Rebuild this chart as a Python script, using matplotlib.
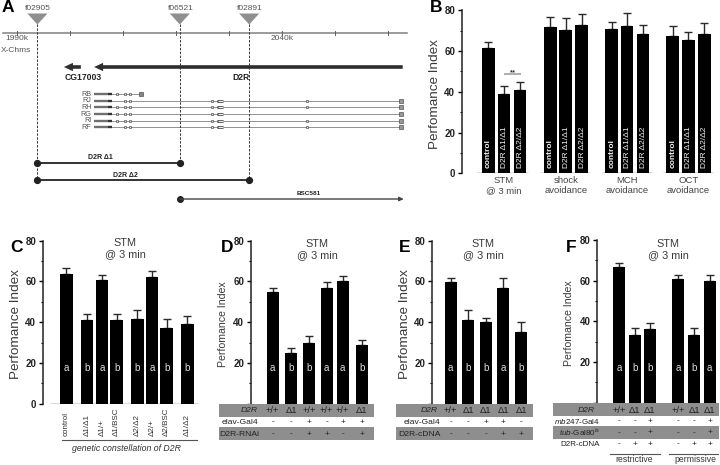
import matplotlib
matplotlib.use("Agg")
import matplotlib.pyplot as plt
import numpy as np

plt.rcParams['font.family'] = ['Liberation Sans', 'DejaVu Sans']
plt.rcParams['mathtext.fontset'] = 'custom'
plt.rcParams['mathtext.rm'] = 'Liberation Sans'
plt.rcParams['mathtext.it'] = 'Liberation Sans:italic'

# --- values ---
b_labels = ["control", "D2R \u03941/\u03941", "D2R \u03942/\u03942"]
b_groups = ["STM\n@ 3 min", "shock\navoidance", "MCH\navoidance", "OCT\navoidance"]
b_values = [61.5, 39, 41, 72, 70.5, 73, 71, 72.5, 68.5, 67.5, 65.5, 68.5]
b_errors = [3, 4, 4, 4.5, 5.5, 5, 3.5, 6, 4.5, 5, 4, 5.5]

c_labels = ["control", "\u03941/\u03941", "\u03941/+", "\u03941/BSC",
            "\u03942/\u03942", "\u03942/+", "\u03942/BSC", "\u03941/\u03942"]
c_values = [63.5, 41, 60.5, 41, 41.5, 62, 37, 39]
c_errors = [3, 3, 2.5, 3, 4.5, 3, 4.5, 4]
c_groups = ["a", "b", "a", "b", "b", "a", "b", "b"]

d_values = [55, 25, 30, 57, 60, 29]
d_errors = [2, 2.5, 3, 2.5, 2.5, 2.5]
d_groups = ["a", "b", "b", "a", "a", "b"]
d_d2r = ["+/+", "\u03941", "+/+", "+/+", "+/+", "\u03941"]
d_elav = ["-", "-", "+", "-", "+", "+"]
d_rnai = ["-", "-", "+", "+", "-", "+"]

e_values = [59.5, 41, 40, 57, 35]
e_errors = [2, 5, 2, 4.5, 5]
e_groups = ["a", "b", "b", "a", "b"]
e_d2r = ["+/+", "\u03941", "\u03941", "\u03941", "\u03941"]
e_elav = ["-", "-", "+", "+", "-"]
e_cdna = ["-", "-", "-", "+", "+"]

f_values = [66.5, 33.5, 36, 61, 33.5, 60]
f_errors = [2, 3, 3, 2, 3, 3]
f_groups = ["a", "b", "b", "a", "b", "a"]
f_d2r = ["+/+", "\u03941", "\u03941", "+/+", "\u03941", "\u03941"]
f_mb = ["-", "-", "+", "-", "-", "+"]
f_tub = ["-", "-", "+", "-", "-", "+"]
f_cdna = ["-", "+", "+", "-", "+", "+"]

# panel A, positions in kb along the chromosome
insertions = ["f02905", "f06521", "f02891"]
insertion_kb = [1993.8, 2020.7, 2033.8]
map_ticks_kb = [1990, 2000, 2010, 2020, 2030, 2040, 2050, 2060]
isoforms = ["RB", "RJ", "RH", "RG", "RI", "RF"]
iso_small = [
    [2008.9, 2010.4, 2011.3],
    [2010.4, 2011.3, 2026.8, 2044.7],
    [2008.9, 2010.4, 2011.3, 2026.8, 2044.7],
    [2008.9, 2010.4, 2011.3, 2026.8],
    [2008.9, 2010.4, 2011.3, 2026.8, 2044.7],
    [2010.4, 2011.3, 2026.8, 2044.7],
]

W, H = 720, 465
TEXT = "#3a3a3a"
BAND = "#8e8e8e"

fig = plt.figure(figsize=(W / 100, H / 100), dpi=100)

# overlay in pixels for the row bands and loose labels
ov = fig.add_axes([0, 0, 1, 1], zorder=5)
ov.set_xlim(0, W)
ov.set_ylim(H, 0)
ov.axis("off")
ov.patch.set_alpha(0)


def bar_panel(x0, x1, y80, y0, xs, vals, errs, ylab_x, ylab_size, bar_w=12.7, zero_label=True):
    # x data units are figure pixels, y is the performance index
    ax = fig.add_axes([x0 / W, 1 - y0 / H, (x1 - x0) / W, (y0 - y80) / H])
    ax.set_xlim(x0, x1)
    ax.set_ylim(0, 80)
    ax.patch.set_alpha(0)
    for s in ["top", "right", "bottom"]:
        ax.spines[s].set_visible(False)
    ax.spines["left"].set_linewidth(1.1)
    ax.spines["left"].set_color("#222222")
    ax.set_xticks([])
    ax.set_yticks([0, 20, 40, 60, 80])
    ax.set_yticks([10, 30, 50, 70], minor=True)
    labs = ["0" if zero_label else "", "20", "40", "60", "80"]
    ax.set_yticklabels(labs, fontsize=7, fontweight="bold", color="#222222")
    ax.tick_params(axis="y", which="major", length=3.2, width=1, pad=1.5)
    ax.tick_params(axis="y", which="minor", length=1.8, width=0.8)
    ax.errorbar(xs, vals, yerr=[np.zeros(len(errs)), errs], fmt="none", ecolor="#2a2a2a",
                elinewidth=1.0, capsize=3.0, capthick=1.0, zorder=2)
    ax.bar(xs, vals, width=bar_w, color="black", zorder=3)
    ov.text(ylab_x, (y80 + y0) / 2 + 2, "Perfomance Index", rotation=90, ha="center", va="center",
            fontsize=ylab_size, color=TEXT)
    return ax


def stm_title(x, y):
    ov.text(x, y, "STM\n@ 3 min", ha="center", va="top", fontsize=7.8, color=TEXT, linespacing=1.1)


def letters(ax, xs, groups):
    for x, g in zip(xs, groups):
        ax.text(x, 17.3, g, color="#dddddd", ha="center", va="center", fontsize=7)


def band_rows(x0, x1, rows):
    for y_top, y_bot in rows:
        ov.fill_between([x0, x1], y_top, y_bot, color=BAND, lw=0, zorder=1)


def row(y, xs, items, label, label_x, italic=False, size=6.8, label_size=6.1):
    ov.text(label_x, y, label, ha="right", va="center", fontsize=label_size, color="#222222",
            style="italic" if italic else "normal", zorder=3)
    for x, it in zip(xs, items):
        ov.text(x, y, it, ha="center", va="center", fontsize=size, color="#222222", zorder=3)


# --- panel A ---
ax_a = fig.add_axes([0, 1 - 215 / H, 420 / W, 215 / H])
ax_a.set_xlim(1986.73, 2066.07)
ax_a.set_ylim(215, 0)
ax_a.axis("off")
ax_a.plot([1987.35, 2063.55], [32.7, 32.7], color="#808080", lw=1.1)
for t in map_ticks_kb:
    ax_a.plot([t, t], [30.7, 34.7], color="#606060", lw=0.7)
ax_a.text(1990, 39, "1990k", ha="center", va="center", fontsize=6, color="#555555")
ax_a.text(2040, 39, "2040k", ha="center", va="center", fontsize=6, color="#555555")
ax_a.text(1986.9, 50.5, "X-Chms", ha="left", va="center", fontsize=6, color="#555555")

ends = [180, 163, 180]
for name, kb, yend in zip(insertions, insertion_kb, ends):
    ax_a.fill([kb - 1.9, kb + 1.9, kb], [13.5, 13.5, 24.5], color="#8f8f8f", lw=0)
    ax_a.plot([kb, kb], [24, yend], color="#333333", lw=0.7, ls=(0, (2.5, 1.5)))
    ax_a.text(kb + 0.1, 9, name, ha="center", va="center", fontsize=6, color="#555555")

thick = dict(width=2.6, headwidth=6, headlength=6.5, color="#2e2e2e", lw=0, shrink=0)
ax_a.annotate("", xy=(1998.8, 67), xytext=(2002.0, 67), arrowprops=thick)
ax_a.annotate("", xy=(2004.5, 67), xytext=(2062.8, 67), arrowprops=thick)
ax_a.text(2002.4, 77, "CG17003", ha="center", va="center", fontsize=6.2, fontweight="bold", color="#222222")
ax_a.text(2032.2, 77, "D2R", ha="center", va="center", fontsize=6.2, fontweight="bold", color="#222222")

iso_y = [94, 100.7, 107.3, 114.3, 120.7, 127.3]
for name, y, small in zip(isoforms, iso_y, iso_small):
    ax_a.text(2004.0, y, name, ha="right", va="center", fontsize=5.2, color="#555555")
    end = 2013.4 if name == "RB" else 2062.5
    ax_a.plot([2004.5, end], [y, y], color="#666666", lw=0.5, zorder=1)
    ax_a.plot([2004.5, 2007.2], [y, y], color="#707070", lw=1.7, solid_capstyle="butt", zorder=2)
    ax_a.plot([2007.2, 2007.8], [y, y], color="#333333", lw=1.7, solid_capstyle="butt", zorder=2)
    ax_a.scatter(small, [y] * len(small), marker="s", s=2.5, facecolor="#dddddd", edgecolor="#333333",
                 linewidth=0.4, zorder=3)
    if name == "RB":
        ax_a.scatter([2013.4], [y], marker="s", s=5, facecolor="#888888", edgecolor="#333333",
                     linewidth=0.4, zorder=3)
    else:
        ax_a.plot([2027.8, 2028.9], [y, y], color="#333333", lw=2.0, solid_capstyle="butt", zorder=2)
        ax_a.plot([2027.9, 2028.8], [y, y], color="#eeeeee", lw=1.0, solid_capstyle="butt", zorder=3)
        ax_a.scatter([2062.5], [y], marker="s", s=5, facecolor="#999999", edgecolor="#333333",
                     linewidth=0.4, zorder=3)

ax_a.plot([1993.8, 2020.7], [163, 163], color="#222222", lw=1.3, marker="o", ms=4.2)
ax_a.plot([1993.8, 2033.8], [180, 180], color="#222222", lw=1.3, marker="o", ms=4.2)
ax_a.plot([2020.7], [199], color="#222222", marker="o", ms=4)
ax_a.annotate("", xy=(2063, 199), xytext=(2020.7, 199),
              arrowprops=dict(arrowstyle="-|>,head_width=0.12,head_length=0.25", lw=1, color="#444444",
                              shrinkA=0, shrinkB=0))
ax_a.text(2005.6, 157.5, "D2R \u03941", ha="center", va="center", fontsize=5, fontweight="bold", color="#222222")
ax_a.text(2010.4, 175, "D2R \u03942", ha="center", va="center", fontsize=5, fontweight="bold", color="#222222")
ax_a.text(2045, 193, "BSC581", ha="center", va="center", fontsize=4.6, fontweight="bold", color="#222222")

# --- panel B ---
b_x = [488.3, 504, 520, 550.3, 565.7, 581.7, 611.7, 627, 643, 672.7, 688.3, 704.3]
ax_b = bar_panel(461.7, 718, 10.3, 173.3, b_x, b_values, b_errors, 435, 9.7)
for i, x in enumerate(b_x):
    lab = b_labels[i % 3]
    ax_b.text(x + 0.3, 2.5, lab, rotation=90, ha="center", va="bottom", color="#f0f0f0", fontsize=6,
              fontweight="bold" if i % 3 == 0 else "normal", zorder=4)
for k, (a, b) in enumerate([(477, 528), (540, 590), (602, 652), (663, 713)]):
    ax_b.hlines(0, a, b, color="#444444", lw=1)
    ov.text(b_x[3 * k + 1], 176, b_groups[k], ha="center", va="top", fontsize=6.8, color="#444444",
            linespacing=1.15)
ax_b.hlines(48.5, 503.5, 521, color="#999999", lw=1.1)
ax_b.text(512.5, 49.5, "**", ha="center", va="center", fontsize=5.5, fontweight="bold", color="#333333")

# --- panel C ---
c_x = [66.3, 87, 102, 116.7, 137.3, 152, 166.7, 187.3]
ax_c = bar_panel(42.7, 205, 240.7, 403.7, c_x, c_values, c_errors, 16.5, 9.7)
ax_c.hlines(0, 50, 198, color="#444444", lw=1)
letters(ax_c, c_x, c_groups)
stm_title(125, 238)
for x, lab in zip(c_x, c_labels):
    ov.text(x, 436, lab, rotation=90, ha="center", va="bottom", fontsize=5.8, color="#333333")
ov.plot([62, 197], [439.5, 439.5], color="#555555", lw=0.8)
ov.text(126, 448.5, "genetic constellation of D2R", ha="center", va="center", fontsize=6.3,
        style="italic", color="#333333")

# --- panel D ---
d_x = [272.7, 291.3, 309, 326.7, 342.7, 362]
ax_d = bar_panel(250.7, 375, 240.7, 403.7, d_x, d_values, d_errors, 223.5, 7.6, bar_w=12.3, zero_label=False)
letters(ax_d, d_x, d_groups)
stm_title(317, 239)
band_rows(219, 373.7, [(403.7, 416.7), (427, 440)])
row(410.5, d_x, d_d2r, "D2R", 258, italic=True)
row(422, d_x, d_elav, "elav-Gal4", 258.5, size=6)
row(434, d_x, d_rnai, "D2R-RNAi", 259.5, size=6)

# --- panel E ---
e_x = [450.7, 468.3, 485.7, 503.3, 521]
ax_e = bar_panel(431.7, 540, 240.7, 403.7, e_x, e_values, e_errors, 405, 9.7, bar_w=12.3, zero_label=False)
letters(ax_e, e_x, e_groups)
stm_title(483, 239)
band_rows(395.7, 533.3, [(403.7, 416.7), (427, 440)])
row(410.5, e_x, e_d2r, "D2R", 438, italic=True)
row(422, e_x, e_elav, "elav-Gal4", 440.5, size=6)
row(434, e_x, e_cdna, "D2R-cDNA", 440.5, size=6)

# --- panel F ---
f_x = [619, 634.7, 650, 678.3, 694.3, 709.7]
ax_f = bar_panel(597.3, 719, 240, 402.7, f_x, f_values, f_errors, 569, 7.6, bar_w=12.3, zero_label=False)
letters(ax_f, f_x, f_groups)
stm_title(668, 239)
band_rows(553.3, 719, [(403.3, 415.7), (426.3, 439)])
row(410, f_x, f_d2r, "D2R", 595, italic=True)
row(421, f_x, f_mb, r"$\mathit{mb247}$-Gal4", 600, size=6, label_size=5.8)
row(432.5, f_x, f_tub, r"$\mathit{tub}$-Gal80$^{ts}$", 600, size=6, label_size=5.8)
row(444, f_x, f_cdna, "D2R-cDNA", 600, size=6, label_size=5.8)
ov.plot([609.5, 660], [454, 454], color="#555555", lw=0.8)
ov.plot([669, 718.3], [454, 454], color="#555555", lw=0.8)
ov.text(634.5, 459.5, "restrictive", ha="center", va="center", fontsize=6.2, color="#333333")
ov.text(695.5, 459.5, "permissive", ha="center", va="center", fontsize=6.2, color="#333333")

# panel letters
for lab, x, y in [("A", 2, 8), ("B", 430, 8), ("C", 10, 247), ("D", 221, 247), ("E", 399, 247), ("F", 566, 247)]:
    ov.text(x, y, lab, ha="left", va="center", fontsize=12.5, fontweight="bold", color="black")

fig.savefig("out.png", dpi=100)
